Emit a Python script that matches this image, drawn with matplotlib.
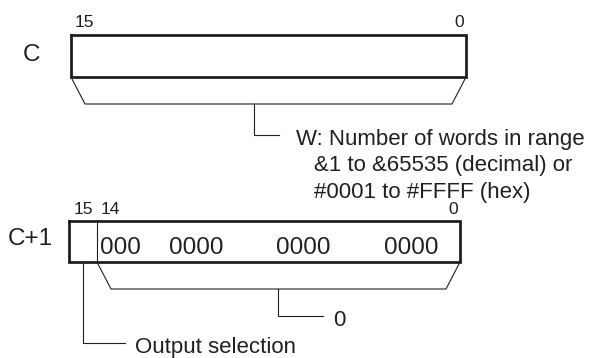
import matplotlib
matplotlib.use('Agg')
from matplotlib import pyplot as plt

plt.rcParams['font.family'] = ['Liberation Sans', 'DejaVu Sans']

# word names and bit labels
word_names = ['C', 'C+1']
bits_c = ['15', '0']
bits_c1 = ['15', '14', '0']
# contents of C+1 (bits 14..0)
c1_fields = ['000', '0000', '0000', '0000']
w_text = ['W: Number of words in range',
          '&1 to &65535 (decimal) or',
          '#0001 to #FFFF (hex)']
c1_value = '0'
sel_text = 'Output selection'

fig = plt.figure(figsize=(5.97, 3.58), dpi=100)
ax = fig.add_axes([0, 0, 1, 1])
ax.set_xlim(0, 597)
ax.set_ylim(358, 0)
ax.axis('off')

thick = 2.0
thin = 0.8
col = '#231f20'

def box(ax, x0, x1, y0, y1):
    ax.plot([x0, x1, x1, x0, x0], [y0, y0, y1, y1, y0], color=col, lw=thick,
            solid_joinstyle='miter')

def bracket(ax, x0, x1, y0, y1, inset=14):
    ax.plot([x0, x0 + inset, x1 - inset, x1], [y0, y1, y1, y0], color=col, lw=thin)

# word C
box(ax, 71, 466, 35, 77)
bracket(ax, 71, 466, 77, 104)
ax.plot([254, 254, 279], [104, 135, 135], color=col, lw=thin)
ax.text(32, 61, word_names[0], fontsize=17.5, ha='center', va='baseline', color=col)
ax.text(84, 27, bits_c[0], fontsize=12.5, ha='center', va='baseline', color=col)
ax.text(459, 27, bits_c[1], fontsize=12.5, ha='center', va='baseline', color=col)
for i, line in enumerate(w_text):
    x = 296 if i == 0 else 314
    ax.text(x, 145 + i * 26.5, line, fontsize=16, ha='left', va='baseline', color=col)

# word C+1
box(ax, 69, 460, 221, 262)
ax.plot([97, 97], [221, 262], color=col, lw=thin)
bracket(ax, 97, 460, 262, 289)
ax.plot([278, 278, 323], [289, 316, 316], color=col, lw=thin)
ax.text(333, 326, c1_value, fontsize=16, ha='left', va='baseline', color=col)
ax.plot([83, 83, 125], [262, 343, 343], color=col, lw=thin)
ax.text(135, 353, sel_text, fontsize=16, ha='left', va='baseline', color=col)
ax.text(30, 245, word_names[1], fontsize=17.5, ha='center', va='baseline', color=col)
for x, b in zip([83, 110, 453], bits_c1):
    ax.text(x, 214, b, fontsize=12.5, ha='center', va='baseline', color=col)
for x, f in zip([120, 196, 303, 411], c1_fields):
    ax.text(x, 254, f, fontsize=17.5, ha='center', va='baseline', color=col)

fig.savefig('out.png', dpi=100)
